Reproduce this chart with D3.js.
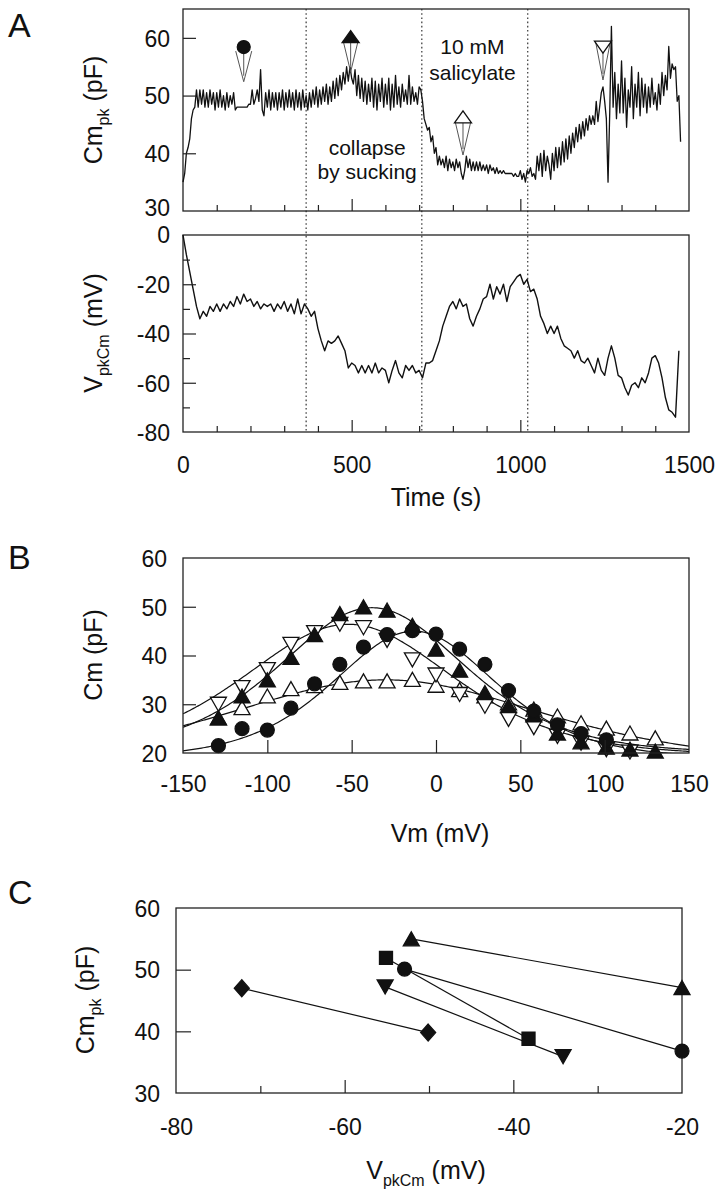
<!DOCTYPE html>
<html><head><meta charset="utf-8">
<script src="https://cdn.jsdelivr.net/npm/d3@7"></script>
<style>
body{margin:0;background:#fff}
svg{display:block}
text{font-family:"Liberation Sans",Arial,Helvetica,sans-serif;fill:#111}
</style>
</head><body>
<svg id="c" width="728" height="1199"></svg>
<script>
// ---------------- DATA ----------------
// Panel A (top): Cm_pk trace, sampled every 5 s from 0 s
const cmStep = 5;
const cmValues = [
 35,36.5,40,41,42.5,46,47.5,48,51,48,51,48.5,51,48,50.5,48,51,48.5,50.5,47.5,
 50.5,48,51,48,50,47.5,50.5,48,50,48.5,50.5,47.5,48,48,48,48,48,48,48,48.5,
 48.5,51,48.5,49.5,51,49,54.5,47.5,46.5,50.5,48,51,47.5,50.5,48,50.5,47.5,50.5,48,51,
 47.5,50.5,48,51,48,50.5,47.5,51,48,50.5,47.5,51,48,50,47.5,50.5,48,51,48.5,51.5,
 48,51,48.5,51.5,49,52,48.5,51.5,49,52.5,49.5,53,50,53.5,51,54,52,55,52.5,55,
 53,52,54.5,50,53.5,49.5,53,49,52.5,48.5,52,49,53,48,52.5,47.5,52,49,53,48,
 52,48.5,53,47.5,52,48,53.5,48.5,51.5,48,52,49,51,48.5,53.5,48.5,51.5,49,50.5,48.5,
 51.5,51,49,46,45,44,44.5,42,43,40,41,38,39.5,38,39,37.5,39.5,37,39,37.5,
 38.5,37,39,37.5,38.5,36.5,35.5,37,39.5,37.5,39,37,38.5,37,38.5,37,38.5,37,38,37,
 38,36.5,38,37,37.5,36.5,37.5,36.5,37,36.5,37,36.5,36.5,36.5,36.5,36.5,36,36.5,36,36,
 37,35.5,36.5,35,37,36.5,37.5,36,36.5,35.5,39.5,37,40,36,40.5,37,39.5,38,35.5,40,
 37,41,37.5,41,38,42,38.5,42.5,39,43,40,43.5,41,44.5,42,45,42.5,45.5,43,46,
 44,46.5,45,46.5,45,49,45.5,48,50.5,51.5,49,46,35,47,62,48,54,46,52,47,
 56,47,53,44.5,51,48,55,46,52,48,54,46.5,53,48,52,47,51.5,48,53,48.5,
 50.5,47.5,52,48.5,54,50,53.5,51,58.5,53,55.5,54.5,55,49,50,42
];
// Panel A (bottom): VpkCm trace, sampled every 10 s from 0 s
const vStep = 10;
const vValues = [
 0,-8,-15,-22,-29,-34,-31,-33,-29,-31,
 -28,-31,-28,-30,-27,-29,-25,-28,-24,-27,
 -26,-29,-27,-30,-28,-29,-28,-31,-28,-30,
 -27,-31,-28,-32,-26,-32,-28,-30,-33,-31,
 -38,-43,-47,-43,-44,-43,-41,-44,-47,-54,
 -52,-53,-56,-53,-56,-53,-56,-52,-56,-54,
 -55,-60,-55,-51,-56,-58,-53,-55,-53,-56,
 -55,-58,-52,-52,-51,-47,-43,-37,-33,-29,
 -27,-30,-26,-29,-28,-34,-37,-33,-30,-26,
 -25,-20,-26,-21,-24,-20,-27,-21,-19,-17,
 -16,-20,-18,-23,-22,-26,-33,-36,-40,-37,
 -40,-37,-42,-45,-46,-47,-50,-47,-51,-52,
 -50,-53,-56,-50,-55,-57,-50,-45,-50,-57,
 -58,-62,-65,-61,-60,-62,-58,-60,-56,-50,
 -49,-52,-58,-66,-71,-72,-74,-47
];
const dottedTimes = [365, 708, 1022];
const timeTickLabels = [0, 500, 1000, 1500];
const timeMinorTicks = [100,200,300,400,600,700,800,900,1100,1200,1300,1400];
const timeMajorTicks = [500,1000];
const cmTicks = [60, 50, 40];
const cmTickLabels = [60, 50, 40, 30];
const vTickLabels = [0, -20, -40, -60, -80];
const vMajorTicks = [-20, -40, -60];
const vMinorTicks = [-10, -30, -50, -70];
// arrow markers on the Cm trace
const markTypes = ["circle", "triangleFilled", "triangleOpen", "triangleDownOpen"];
const markTimes = [180, 497, 830, 1245];
const markSymbolCm = [58.4, 60.2, 46.3, 58.4];
const markTipCm = [52.4, 54.1, 39.7, 52.7];
const annot1 = ["10 mM", "salicylate"];
const annot1Time = 858, annot1Cm = [58.4, 54.0];
const annot2 = ["collapse", "by sucking"];
const annot2Time = 546, annot2Cm = [40.9, 36.8];

// Panel B: Cm–Vm data
const vmPoints = [-129,-115,-100,-86,-72,-57,-43,-29,-14,0,14,29,43,58,72,86,101,115,130];
const cmCircle      = [21.5,25,24.7,29.2,34.2,38.2,41.7,44.3,45.1,44.4,41.3,38.2,32.8,28.6,25.8,24,22.7,null,null];
const cmTriUpFilled = [27.2,31.7,35,39.6,44.3,48.6,50,49.3,46.2,41.3,37,32.4,29.7,27.8,24.1,22.3,21.2,20.8,20.4];
const cmTriDownOpen = [30,33.4,37.1,42.3,44.7,46.4,45.7,43.1,39.1,36,32,29.6,26.9,25.2,23.4,22,20.7,20.2,null];
const cmTriUpOpen   = [27.2,29.3,31.7,33.2,33.8,34.5,34.8,34.8,35.1,33.9,33,31.7,30.3,29,27.6,26.2,25.1,24.1,23.1];
// Boltzmann-derivative fit parameters [Clin, Cpeak-Clin, Vh, alpha]
const fitCircle      = [19, 26, -13, 0.031];
const fitTriUpFilled = [20, 29.8, -38, 0.027];
const fitTriDownOpen = [19.5, 26.9, -52, 0.024];
const fitTriUpOpen   = [18, 17, -30, 0.016];
const vmTickLabels = [-150,-100,-50,0,50,100,150];
const vmTicks = [-100,-50,0,50,100];
const cmBTickLabels = [60,50,40,30,20];
const cmBTicks = [50,40,30];

// Panel C
const cSymbols  = ["triangle", "square", "circle", "triangleDown", "diamond"];
const cVpkBefore = [-52.1, -55.1, -52.9, -55.2, -72.2];
const cCmBefore  = [55.0, 51.9, 50.1, 47.2, 47.0];
const cVpkAfter  = [-20, -38.2, -20, -34.1, -50.1];
const cCmAfter   = [47.1, 38.8, 36.8, 35.9, 39.8];
const cXTickLabels = [-80, -60, -40, -20];
const cXMajor = [-60, -40];
const cXMinor = [-70, -50, -30];
const cYTickLabels = [60, 50, 40, 30];
const cYTicks = [50, 40];

// ---------------- DRAWING ----------------
const svg = d3.select("#c");
const TICK_FS = 23, TITLE_FS = 25, SUB_FS = 16;
const INK = "#111";

function box(g, x, y) {
  const [x0, x1] = x.range(), [y0, y1] = y.range();
  g.append("rect").attr("x", x0).attr("y", Math.min(y0, y1))
    .attr("width", x1 - x0).attr("height", Math.abs(y1 - y0))
    .attr("fill", "none").attr("stroke", "#222").attr("stroke-width", 1.3);
}
function innerXTicks(g, x, y, vals, len) {
  const ax = d3.axisTop(x).tickValues(vals).tickSize(len).tickFormat("");
  const a = g.append("g").attr("transform", `translate(0,${y.range()[0]})`).call(ax);
  a.select(".domain").remove();
  a.selectAll("line").attr("stroke", "#222").attr("stroke-width", 1.2);
}
function innerYTicks(g, x, y, vals, len) {
  const ax = d3.axisRight(y).tickValues(vals).tickSize(len).tickFormat("");
  const a = g.append("g").attr("transform", `translate(${x.range()[0]},0)`).call(ax);
  a.select(".domain").remove();
  a.selectAll("line").attr("stroke", "#222").attr("stroke-width", 1.2);
}
function xLabels(g, x, yPix, vals) {
  const ax = d3.axisBottom(x).tickValues(vals).tickSize(0).tickPadding(0).tickFormat(d3.format("d"));
  const a = g.append("g").attr("transform", `translate(0,${yPix})`).call(ax);
  a.select(".domain").remove();
  a.selectAll("text").attr("font-size", TICK_FS).attr("fill", INK)
    .attr("font-family", '"Liberation Sans",Arial,sans-serif').attr("dy", "0.35em").attr("y", 0);
  return a;
}
function yLabels(g, xPix, y, vals) {
  const ax = d3.axisLeft(y).tickValues(vals).tickSize(0).tickPadding(0).tickFormat(d3.format("d"));
  const a = g.append("g").attr("transform", `translate(${xPix},0)`).call(ax);
  a.select(".domain").remove();
  a.selectAll("text").attr("font-size", TICK_FS).attr("fill", INK)
    .attr("font-family", '"Liberation Sans",Arial,sans-serif').attr("x", 0).attr("dy", "0.36em");
  return a;
}
function yTitle(g, cx, cy, main, sub, tail) {
  const t = g.append("text").attr("transform", `translate(${cx},${cy}) rotate(-90)`)
    .attr("text-anchor", "middle").attr("dy", "0.35em").attr("font-size", TITLE_FS);
  t.append("tspan").text(main);
  if (sub) {
    t.append("tspan").attr("font-size", SUB_FS).attr("dy", 7).text(sub);
    t.append("tspan").attr("dy", -7).text(tail);
  } else t.append("tspan").text(tail);
}
function xTitle(g, cx, cy, main, sub, tail) {
  const t = g.append("text").attr("x", cx).attr("y", cy)
    .attr("text-anchor", "middle").attr("dy", "0.35em").attr("font-size", TITLE_FS);
  t.append("tspan").text(main);
  if (sub) {
    t.append("tspan").attr("font-size", SUB_FS).attr("dy", 7).text(sub);
    t.append("tspan").attr("dy", -7).text(tail);
  } else t.append("tspan").text(tail);
}
function symbolPath(type, w, h) {
  switch (type) {
    case "up": return `M0,${-h/2}L${w/2},${h/2}L${-w/2},${h/2}Z`;
    case "down": return `M0,${h/2}L${w/2},${-h/2}L${-w/2},${-h/2}Z`;
    case "square": return `M${-w/2},${-h/2}H${w/2}V${h/2}H${-w/2}Z`;
    case "diamond": return `M0,${-h/2}L${w/2},0L0,${h/2}L${-w/2},0Z`;
  }
}
function drawSym(g, type, x, y, filled, w, h) {
  const fill = filled ? INK : "#fff";
  if (type === "circle") {
    g.append("circle").attr("cx", x).attr("cy", y).attr("r", w / 2)
      .attr("fill", fill).attr("stroke", INK).attr("stroke-width", 1.2);
  } else {
    g.append("path").attr("d", symbolPath(type, w, h)).attr("transform", `translate(${x},${y})`)
      .attr("fill", fill).attr("stroke", INK).attr("stroke-width", 1.3).attr("stroke-linejoin", "miter");
  }
}

// ---- Panel A ----
const xT = d3.scaleLinear().domain([0, 1500]).range([183, 689]);
const yCm = d3.scaleLinear().domain([30, 65]).range([211, 9]);
const yV = d3.scaleLinear().domain([-80, 0]).range([432, 235]);
const gA = svg.append("g");

gA.selectAll("line.dot").data(dottedTimes).join("line")
  .attr("x1", d => xT(d)).attr("x2", d => xT(d))
  .attr("y1", yCm(65)).attr("y2", yV(-80))
  .attr("stroke", "#222").attr("stroke-width", 1.1).attr("stroke-dasharray", "1.6,2.6");

box(gA, xT, yCm);
box(gA, xT, yV);

const cmLine = d3.line().x((d, i) => xT(i * cmStep)).y(d => yCm(d));
gA.append("path").datum(cmValues).attr("d", cmLine)
  .attr("fill", "none").attr("stroke", INK).attr("stroke-width", 1.3).attr("stroke-linejoin", "round");
const vLine = d3.line().x((d, i) => xT(i * vStep)).y(d => yV(d));
gA.append("path").datum(vValues).attr("d", vLine)
  .attr("fill", "none").attr("stroke", INK).attr("stroke-width", 1.4).attr("stroke-linejoin", "round");

innerXTicks(gA, xT, yCm, timeMinorTicks, 6);
innerXTicks(gA, xT, yCm, timeMajorTicks, 12);
innerXTicks(gA, xT, yV, timeMinorTicks, 6);
innerXTicks(gA, xT, yV, timeMajorTicks, 12);
innerYTicks(gA, xT, yCm, cmTicks, 13);
innerYTicks(gA, xT, yV, vMajorTicks, 13);
innerYTicks(gA, xT, yV, vMinorTicks, 7);
// the "30" and "0" labels sit close together where the two boxes meet
yLabels(gA, 170, yCm, cmTickLabels).selectAll(".tick").filter(d => d === 30)
  .select("text").attr("y", -4);
yLabels(gA, 170, yV, vTickLabels).selectAll(".tick").filter(d => d === 0)
  .select("text").attr("y", -1);
xLabels(gA, xT, 465, timeTickLabels);
yTitle(gA, 93, 110, "Cm", "pk", " (pF)");
yTitle(gA, 93, 333, "V", "pkCm", " (mV)");
xTitle(gA, 436, 497, "Time (s)");

markTypes.forEach((type, i) => {
  const x = xT(markTimes[i]), ys = yCm(markSymbolCm[i]), yt = yCm(markTipCm[i]);
  const w = 17, h = 12;
  const top = type === "triangleDownOpen" ? ys - h / 2 : (type === "triangleOpen" ? ys + h / 2 : ys + 4);
  const hw = type === "circle" ? 8 : w / 2 - 1;
  gA.append("path").attr("d", `M${x - hw},${top}L${x},${yt}L${x + hw},${top}`)
    .attr("fill", "none").attr("stroke", "#555").attr("stroke-width", 1);
  gA.append("line").attr("x1", x).attr("x2", x).attr("y1", top).attr("y2", yt - 6)
    .attr("stroke", "#555").attr("stroke-width", 1);
  if (type === "circle") drawSym(gA, "circle", x, ys, true, 13);
  if (type === "triangleFilled") drawSym(gA, "up", x, ys, true, w, h);
  if (type === "triangleOpen") drawSym(gA, "up", x, ys, false, w, h);
  if (type === "triangleDownOpen") drawSym(gA, "down", x, ys, false, w, h);
});
annot1.forEach((s, i) => gA.append("text").attr("x", xT(annot1Time)).attr("y", yCm(annot1Cm[i]))
  .attr("text-anchor", "middle").attr("dy", "0.35em").attr("font-size", 21).text(s));
annot2.forEach((s, i) => gA.append("text").attr("x", xT(annot2Time)).attr("y", yCm(annot2Cm[i]))
  .attr("text-anchor", "middle").attr("dy", "0.35em").attr("font-size", 21).text(s));
svg.append("text").attr("x", 8).attr("y", 37).attr("font-size", 34).text("A");

// ---- Panel B ----
const xB = d3.scaleLinear().domain([-150, 150]).range([183, 689]);
const yB = d3.scaleLinear().domain([20, 60]).range([753, 558]);
const gB = svg.append("g");
const clipB = svg.append("clipPath").attr("id", "clipB");
clipB.append("rect").attr("x", 183).attr("y", 558).attr("width", 506).attr("height", 195);
const fitX = d3.range(-150, 150.5, 1);
const fitLine = p => d3.line()
  .x(v => xB(v))
  .y(v => { const e = Math.exp(-p[3] * (v - p[2])); return yB(p[0] + p[1] * 4 * e / ((1 + e) * (1 + e))); });
[fitCircle, fitTriUpFilled, fitTriDownOpen, fitTriUpOpen].forEach(p => {
  gB.append("path").datum(fitX).attr("d", fitLine(p)).attr("clip-path", "url(#clipB)")
    .attr("fill", "none").attr("stroke", INK).attr("stroke-width", 1.2);
});
const seriesB = [
  {vals: cmTriUpOpen, type: "up", filled: false},
  {vals: cmTriDownOpen, type: "down", filled: false},
  {vals: cmTriUpFilled, type: "up", filled: true},
  {vals: cmCircle, type: "circle", filled: true}
];
seriesB.forEach(s => {
  s.vals.forEach((c, i) => {
    if (c == null) return;
    if (s.type === "circle") drawSym(gB, "circle", xB(vmPoints[i]), yB(c), true, 14);
    else drawSym(gB, s.type, xB(vmPoints[i]), yB(c), s.filled, 16, 14);
  });
});
box(gB, xB, yB);
innerXTicks(gB, xB, yB, vmTicks, 13);
innerYTicks(gB, xB, yB, cmBTicks, 13);
yLabels(gB, 167, yB, cmBTickLabels);
xLabels(gB, xB, 784, vmTickLabels);
yTitle(gB, 93, 655, "Cm (pF)");
xTitle(gB, 440, 833, "Vm (mV)");
svg.append("text").attr("x", 8).attr("y", 569).attr("font-size", 34).text("B");

// ---- Panel C ----
const xC = d3.scaleLinear().domain([-80, -20]).range([176, 682]);
const yC = d3.scaleLinear().domain([30, 60]).range([1093, 908]);
const gC = svg.append("g");
box(gC, xC, yC);
innerXTicks(gC, xC, yC, cXMajor, 13);
innerXTicks(gC, xC, yC, cXMinor, 7);
innerYTicks(gC, xC, yC, cYTicks, 15);
cSymbols.forEach((s, i) => {
  gC.append("line").attr("x1", xC(cVpkBefore[i])).attr("y1", yC(cCmBefore[i]))
    .attr("x2", xC(cVpkAfter[i])).attr("y2", yC(cCmAfter[i]))
    .attr("stroke", INK).attr("stroke-width", 1.2);
});
cSymbols.forEach((s, i) => {
  [[cVpkBefore[i], cCmBefore[i]], [cVpkAfter[i], cCmAfter[i]]].forEach(([v, c]) => {
    const x = xC(v), y = yC(c);
    if (s === "triangle") drawSym(gC, "up", x, y, true, 16, 14);
    if (s === "triangleDown") drawSym(gC, "down", x, y, true, 16, 14);
    if (s === "square") drawSym(gC, "square", x, y, true, 13, 13);
    if (s === "circle") drawSym(gC, "circle", x, y, true, 14);
    if (s === "diamond") drawSym(gC, "diamond", x, y, true, 15, 17);
  });
});
yLabels(gC, 160, yC, cYTickLabels);
xLabels(gC, xC, 1127, cXTickLabels);
yTitle(gC, 85, 1000, "Cm", "pk", " (pF)");
xTitle(gC, 426, 1170, "V", "pkCm", " (mV)");
svg.append("text").attr("x", 8).attr("y", 904).attr("font-size", 34).text("C");

// ASCII hyphen-minus for negative tick labels as in the original
svg.selectAll(".tick text").each(function(){ this.textContent = this.textContent.replace("\u2212", "-"); });
</script>
</body></html>
